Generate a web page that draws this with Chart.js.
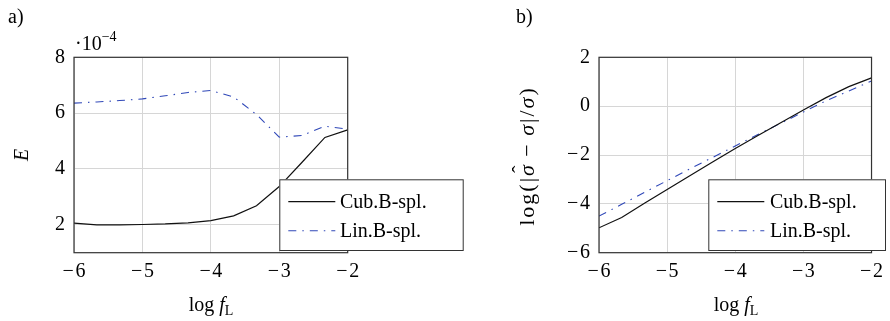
<!DOCTYPE html>
<html>
<head>
<meta charset="utf-8">
<script src="https://cdn.jsdelivr.net/npm/chart.js@4.4.1/dist/chart.umd.min.js"></script>
<style>
  body { margin: 0; background: #fff; width: 890px; height: 321px; position: relative; overflow: hidden;
         font-family: "Liberation Serif", "Times New Roman", serif; color: #000; }
  .panel { position: absolute; top: 0; }
  .txt { position: absolute; font-size: 20px; line-height: 20px; white-space: nowrap; }
  .rot { transform: translate(-50%, -50%) rotate(-90deg); }
  .ctr { transform: translateX(-50%); }
  i { font-style: italic; }
  sub { font-size: 14px; vertical-align: -4px; line-height: 0; }
  sup { font-size: 14px; vertical-align: 9px; line-height: 0; }
  .hat { position: relative; display: inline-block; }
  .hat b { position: absolute; left: 3px; top: -7px; font-weight: normal; font-style: normal; }
</style>
</head>
<body>
<div class="panel" style="left:0;width:480px;height:321px"><canvas id="chartA" width="480" height="321"></canvas></div>
<div class="panel" style="left:480px;width:410px;height:321px"><canvas id="chartB" width="410" height="321"></canvas></div>

<div class="txt" style="left:8px;top:6px">a)</div>
<div class="txt" style="left:516px;top:6px">b)</div>
<div class="txt" style="left:75px;top:33px">·10<sup>−4</sup></div>
<div class="txt rot" style="left:21px;top:155px"><i>E</i></div>
<div class="txt rot" style="left:527px;top:156px;font-size:22px;line-height:22px;letter-spacing:2px">log(|<span class="hat"><i>σ</i><b>ˆ</b></span>&#8201;−&#8201;<i>σ</i>|/<i>σ</i>)</div>
<div class="txt ctr" style="left:211px;top:294px">log <i>f</i><sub>L</sub></div>
<div class="txt ctr" style="left:736px;top:294px">log <i>f</i><sub>L</sub></div>

<script>
// log f_L sample positions (shared by both panels)
const logF = [-6, -5.667, -5.333, -5, -4.667, -4.333, -4, -3.667, -3.333, -3, -2.667, -2.333, -2];
const xTicks = [-6, -5, -4, -3, -2];

// panel a: error E (in units of 1e-4)
const errCubic = [2.06, 2.0, 2.0, 2.01, 2.03, 2.07, 2.15, 2.32, 2.68, 3.37, 4.24, 5.13, 5.4];
const errLinear = [6.36, 6.4, 6.45, 6.51, 6.62, 6.74, 6.81, 6.58, 5.95, 5.14, 5.2, 5.53, 5.43];
const errTicks = [2, 4, 6, 8];

// panel b: log relative sigma error
const sigCubic = [-4.98, -4.56, -3.98, -3.41, -2.85, -2.29, -1.73, -1.2, -0.68, -0.16, 0.35, 0.8, 1.16];
const sigLinear = [-4.5, -4.02, -3.53, -3.05, -2.57, -2.1, -1.63, -1.16, -0.7, -0.24, 0.22, 0.62, 1.03];
const sigTicks = [-6, -4, -2, 0, 2];

const seriesNames = ["Cub.B-spl.", "Lin.B-spl."];

Chart.defaults.font.family = "'Liberation Serif', 'Times New Roman', serif";
Chart.defaults.font.size = 20;
Chart.defaults.color = "#000";

const fmtNum = (v) => (v < 0 ? "\u2212\u200A" + Math.abs(v) : String(v));
const toPoints = (ys) => logF.map((x, i) => ({ x, y: ys[i] }));

// full box around the plot area
const framePlugin = {
  id: "frame",
  afterDatasetsDraw(chart) {
    const { left, top, right, bottom } = chart.chartArea;
    const ctx = chart.ctx;
    ctx.save();
    ctx.strokeStyle = "#333";
    ctx.lineWidth = 1.2;
    ctx.strokeRect(left, top, right - left, bottom - top);
    ctx.restore();
  },
};

// boxed legend placed at a fixed spot
const boxLegend = {
  id: "boxLegend",
  afterDraw(chart, args, opts) {
    const ctx = chart.ctx;
    const { x, y, w, h } = opts.box;
    ctx.save();
    ctx.fillStyle = "#fff";
    ctx.fillRect(x, y, w, h);
    ctx.strokeStyle = "#333";
    ctx.lineWidth = 1;
    ctx.strokeRect(x + 0.5, y + 0.5, w, h);
    chart.data.datasets.forEach((ds, i) => {
      const ly = y + 22.4 + i * 29;
      ctx.beginPath();
      ctx.setLineDash(ds.borderDash || []);
      ctx.strokeStyle = ds.borderColor;
      ctx.lineWidth = ds.borderWidth;
      ctx.moveTo(x + 9, ly);
      ctx.lineTo(x + 56, ly);
      ctx.stroke();
      ctx.setLineDash([]);
      ctx.fillStyle = "#000";
      ctx.font = "20px 'Liberation Serif', serif";
      ctx.textBaseline = "middle";
      ctx.fillText(ds.label, x + opts.textX, ly + 1);
    });
    ctx.restore();
  },
};

function makeChart(id, cub, lin, yMin, yMax, yTicks, pad, yWidth, legendBox) {
  const ctx = document.getElementById(id).getContext("2d");
  return new Chart(ctx, {
    type: "line",
    data: {
      datasets: [
        {
          label: seriesNames[0],
          data: toPoints(cub),
          borderColor: "#111",
          borderWidth: 1.2,
          pointRadius: 0,
          tension: 0,
        },
        {
          label: seriesNames[1],
          data: toPoints(lin),
          borderColor: "#3048b8",
          borderWidth: 1.1,
          borderDash: [8, 6, 1.5, 6],
          pointRadius: 0,
          tension: 0,
        },
      ],
    },
    options: {
      responsive: false,
      animation: false,
      layout: { padding: pad },
      plugins: {
        legend: { display: false },
        tooltip: { enabled: false },
        boxLegend: legendBox,
      },
      scales: {
        x: {
          type: "linear",
          min: -6,
          max: -2,
          afterBuildTicks: (scale) => { scale.ticks = xTicks.map((value) => ({ value })); },
          afterFit: (scale) => { scale.height = 68.3; },
          grid: { color: "#d6d6d6", lineWidth: 1, drawTicks: false },
          border: { display: false },
          ticks: { padding: 7, maxRotation: 0, autoSkip: false, callback: fmtNum },
        },
        y: {
          min: yMin,
          max: yMax,
          afterBuildTicks: (scale) => { scale.ticks = yTicks.map((value) => ({ value })); },
          afterFit: (scale) => { scale.width = yWidth; },
          grid: { color: "#d6d6d6", lineWidth: 1, drawTicks: false },
          border: { display: false },
          ticks: { padding: 9, autoSkip: false, callback: fmtNum },
        },
      },
    },
    plugins: [framePlugin, boxLegend],
  });
}

makeChart("chartA", errCubic, errLinear, 1, 8, errTicks,
  { left: 0, top: 57.3, right: 132.3, bottom: 0 }, 74,
  { box: { x: 279.3, y: 179.3, w: 183.4, h: 70.7 }, textX: 60.7 });

makeChart("chartB", sigCubic, sigLinear, -6, 2, sigTicks,
  { left: 0, top: 57.3, right: 17.7, bottom: 0 }, 119,
  { box: { x: 228.3, y: 179.3, w: 176.7, h: 70.7 }, textX: 61.7 });
</script>
</body>
</html>
